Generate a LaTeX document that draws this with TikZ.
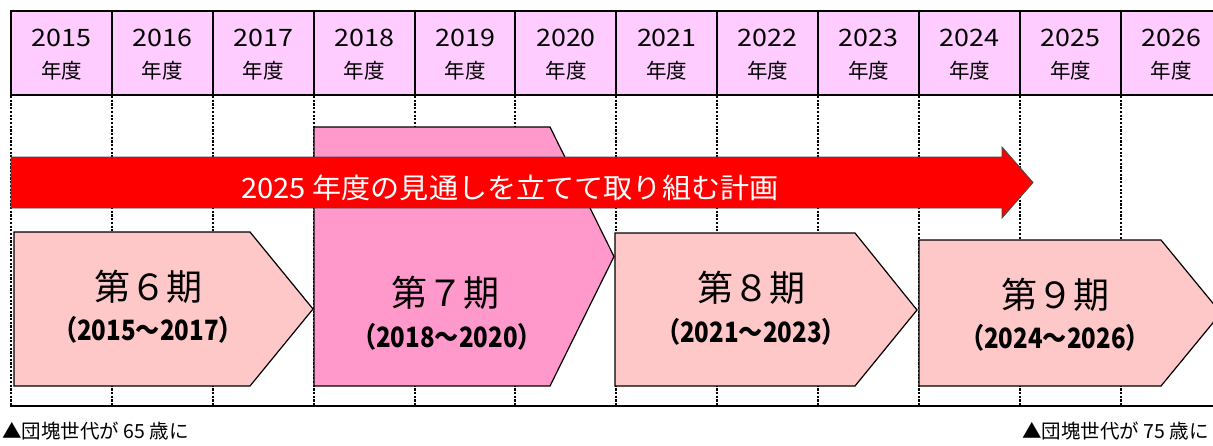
\documentclass[tikz,border=0pt]{standalone}
\usepackage{fontspec}
\setmainfont{Noto Sans CJK JP}
\usepackage{graphicx}
\definecolor{hdr}{HTML}{FFCCFF}
\definecolor{lpink}{HTML}{FFC8C8}
\definecolor{mpink}{HTML}{FF99CC}
\definecolor{bigred}{HTML}{FF0000}
\begin{document}
\begin{tikzpicture}[x=1pt,y=-1pt,
  hdrline/.style={line width=2.2pt},
  gridline/.style={line width=1.8pt,dash pattern=on 2.2pt off 1.5pt},
  period/.style={draw=black,line width=1.2pt,line join=miter},
  yearlbl/.style={font=\fontsize{24}{24}\selectfont,inner sep=0pt},
  nendo/.style={font=\fontsize{20.5}{20.5}\selectfont,inner sep=0pt},
  ptitle/.style={font=\fontsize{36}{36}\selectfont,inner sep=0pt},
  prange/.style={font=\bfseries\fontsize{28}{28}\selectfont,inner sep=0pt},
  caption/.style={font=\fontsize{19.5}{19.5}\selectfont,inner sep=0pt}]
\useasboundingbox (0,0) rectangle (1213,445);
\clip (0,0) rectangle (1213,445);
\fill[white] (0,0) rectangle (1213,445);
% header
\fill[hdr] (11,11) rectangle (1213,95);
\foreach \i in {0,...,11} {
  \pgfmathsetmacro{\xx}{round(11+\i*100.9)}
  \draw[hdrline] (\xx,11) -- (\xx,95);
  \draw[gridline] (\xx,96) -- (\xx,405);
}
\draw[hdrline] (10,11) -- (1213,11);
\draw[hdrline] (10,95) -- (1213,95);
\draw[line width=2.6pt] (10,406) -- (1213,406);
\foreach \y [count=\i from 0] in {2015,...,2026} {
  \node[yearlbl] (y\i) at ({61.5+\i*100.9},38) {\scalebox{1.12}[1]{\y}};
  \node[nendo] (n\i) at ({61.5+\i*100.9},71) {年度};
}
% periods
\filldraw[period, fill=lpink] (14,232) -- (250,232) -- (313,309) -- (250,386) -- (14,386) -- cycle;
\filldraw[period, fill=mpink] (314,127) -- (550,127) -- (614,256.5) -- (550,386) -- (314,386) -- cycle;
\filldraw[period, fill=lpink] (615,233) -- (855,233) -- (917,310) -- (855,386) -- (615,386) -- cycle;
\filldraw[period, fill=lpink] (919,240) -- (1161,240) -- (1221,313) -- (1161,386) -- (919,386) -- cycle;
% red arrow
\filldraw[draw=black!70, line width=0.9pt, fill=bigred]
  (11,157) -- (1002,157) -- (1002,147) -- (1033,182.5) -- (1002,218) -- (1002,208) -- (11,208) -- cycle;
\node[text=white, font=\fontsize{28}{28}\selectfont, inner sep=0pt] (plan) at (510,188)
  {\scalebox{1.04}[1]{2025 年度の見通しを立てて取り組む計画}};
% period labels
\node[ptitle] (p6a) at (148,287) {第６期};
\node[prange] (p6b) at (148,330) {\scalebox{0.86}[1]{（2015～2017）}};
\node[ptitle] (p7a) at (445,293) {第７期};
\node[prange] (p7b) at (447,337) {\scalebox{0.86}[1]{（2018～2020）}};
\node[ptitle] (p8a) at (751,288) {第８期};
\node[prange] (p8b) at (751,332) {\scalebox{0.86}[1]{（2021～2023）}};
\node[ptitle] (p9a) at (1055,295) {第９期};
\node[prange] (p9b) at (1055,338) {\scalebox{0.86}[1]{（2024～2026）}};
% captions
\node[caption, anchor=west] (c65) at (2,431) {▲団塊世代が 65 歳に};
\node[caption, anchor=east] (c75) at (1209,431) {▲団塊世代が 75 歳に};
\end{tikzpicture}
\end{document}
